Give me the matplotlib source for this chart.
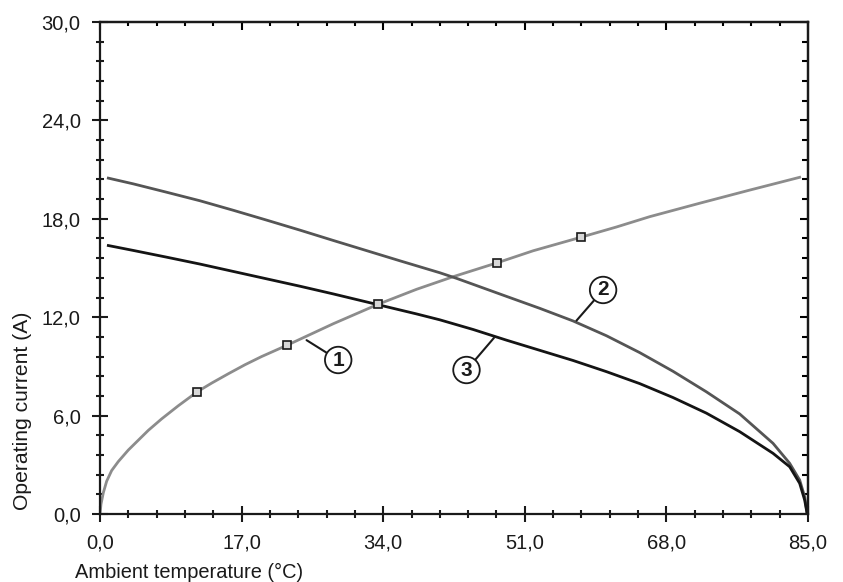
import matplotlib

matplotlib.use("Agg")

import matplotlib.pyplot as plt
from matplotlib.ticker import MultipleLocator

plt.rcParams["font.family"] = ["Liberation Sans", "DejaVu Sans"]

# curva 1 (gris claro, creciente)
t1 = [0.0, 0.12, 0.4, 0.8, 1.4, 2.2, 3.4, 4.6, 5.8, 7.4, 9.4, 11.7, 13.4,
      15.4, 17.4, 19.4, 22.5, 28.0, 33.4, 38.0, 42.4, 47.7, 52.0, 57.7,
      62.0, 66.0, 72.0, 78.0, 84.0]
i1 = [0.0, 0.6, 1.3, 2.0, 2.65, 3.2, 3.9, 4.5, 5.1, 5.8, 6.6, 7.46,
      7.98, 8.55, 9.1, 9.6, 10.3, 11.6, 12.79, 13.7, 14.47, 15.32, 16.05,
      16.87, 17.5, 18.13, 18.95, 19.75, 20.53]
# marcadores sobre la curva 1
t1_mk = [11.7, 22.5, 33.4, 47.7, 57.7]
i1_mk = [7.46, 10.3, 12.79, 15.32, 16.87]

# curva 2 (gris oscuro)
t2 = [1.0, 4.0, 8.0, 12.0, 16.0, 20.0, 24.0, 28.0, 32.0, 36.0, 40.8, 42.8,
      48.8, 52.8, 56.8, 60.8, 64.8, 68.8, 72.8, 76.8, 80.8, 82.8, 84.0,
      84.6, 84.9]
i2 = [20.48, 20.13, 19.62, 19.1, 18.52, 17.92, 17.31, 16.68, 16.06, 15.44,
      14.71, 14.37, 13.27, 12.54, 11.77, 10.87, 9.84, 8.7, 7.45, 6.1, 4.31,
      3.09, 2.07, 1.05, 0.04]

# curva 3 (negra)
t3 = [1.0, 4.0, 8.0, 12.0, 16.0, 20.0, 24.0, 28.0, 33.4, 38.0, 40.8, 44.8,
      48.8, 52.8, 56.8, 60.8, 64.8, 68.8, 72.8, 76.8, 80.8, 82.8, 84.0,
      84.6, 84.9]
i3 = [16.37, 16.07, 15.66, 15.24, 14.79, 14.34, 13.89, 13.42, 12.76, 12.2,
      11.84, 11.25, 10.6, 9.98, 9.36, 8.68, 7.95, 7.1, 6.15, 5.02, 3.7,
      2.88, 1.87, 0.85, 0.0]

# etiquetas numeradas: (texto, punto en curva, centro del circulo)
etiquetas = [
    ("1", (24.8, 10.6), (28.6, 9.39)),
    ("2", (57.2, 11.79), (60.4, 13.66)),
    ("3", (47.3, 10.74), (44.0, 8.78)),
]

fig = plt.figure(figsize=(8.43, 5.82), dpi=100)
ax = fig.add_axes([100 / 843, 1 - 514 / 582, 708 / 843, 492 / 582])

ax.plot(t1, i1, color="#8c8c8c", linewidth=2.0, solid_joinstyle="round")
ax.plot(t2, i2, color="#555555", linewidth=2.0, solid_joinstyle="round")
ax.plot(t3, i3, color="#141414", linewidth=2.0, solid_joinstyle="round")
ax.plot(t1_mk, i1_mk, linestyle="none", marker="s", markersize=6,
        markerfacecolor="#d8d8d8", markeredgecolor="#1a1a1a", markeredgewidth=1.2)

for txt, punto, centro in etiquetas:
    ax.annotate(
        txt, xy=punto, xytext=centro,
        ha="center", va="center", fontsize=15, fontweight="bold", color="#1a1a1a",
        bbox=dict(boxstyle="circle,pad=0.18", facecolor="white",
                  edgecolor="#1a1a1a", linewidth=1.3),
        arrowprops=dict(arrowstyle="-", color="#1a1a1a", linewidth=1.5,
                        shrinkA=0, shrinkB=0),
    )

ax.set_xlim(0, 85)
ax.set_ylim(0, 30)
ax.xaxis.set_major_locator(MultipleLocator(17))
ax.xaxis.set_minor_locator(MultipleLocator(3.4))
ax.yaxis.set_major_locator(MultipleLocator(6))
ax.yaxis.set_minor_locator(MultipleLocator(1.2))
ax.set_xticks(ax.get_xticks())
ax.set_yticks(ax.get_yticks())
ax.set_xticklabels([f"{v:.1f}".replace(".", ",") for v in ax.get_xticks()])
ax.set_yticklabels([f"{v:.1f}".replace(".", ",") for v in ax.get_yticks()])
ax.set_xlim(0, 85)
ax.set_ylim(0, 30)

for s in ax.spines.values():
    s.set_linewidth(1.6)
    s.set_color("#1a1a1a")

ax.tick_params(which="major", direction="inout", length=12, width=1.5,
               labelsize=14.5, colors="#1a1a1a", pad=8)
ax.tick_params(which="minor", direction="inout", length=6, width=1.5,
               colors="#1a1a1a")
# lados superior/derecho: marcas solo hacia dentro
ax2 = ax.secondary_xaxis("top")
ax2.xaxis.set_major_locator(MultipleLocator(17))
ax2.xaxis.set_minor_locator(MultipleLocator(3.4))
ax2.tick_params(which="major", direction="in", length=6, width=1.5, labeltop=False)
ax2.tick_params(which="minor", direction="in", length=3, width=1.5)
ax2.spines["top"].set_linewidth(1.6)
ay2 = ax.secondary_yaxis("right")
ay2.yaxis.set_major_locator(MultipleLocator(6))
ay2.yaxis.set_minor_locator(MultipleLocator(1.2))
ay2.tick_params(which="major", direction="in", length=6, width=1.5, labelright=False)
ay2.tick_params(which="minor", direction="in", length=4, width=1.5)
ay2.spines["right"].set_linewidth(1.6)

fig.text(75 / 843, 1 - 572 / 582, "Ambient temperature (°C)", ha="left",
         va="center", fontsize=14.4, color="#1a1a1a")
fig.text(23 / 843, 1 - 510 / 582, "Operating current (A)", ha="center",
         va="bottom", rotation=90, fontsize=15.2, color="#1a1a1a")

fig.savefig("out.png", dpi=100)
